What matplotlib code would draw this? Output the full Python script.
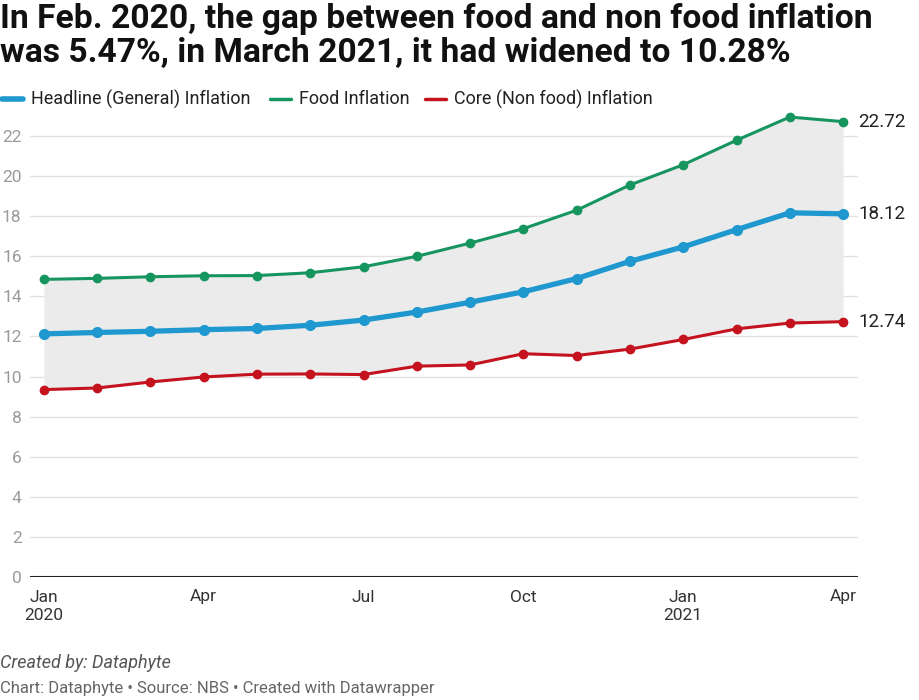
import numpy as np
import matplotlib.pyplot as plt

plt.rcParams['font.family'] = ['Roboto', 'DejaVu Sans']

months = ['Jan\n2020', 'Feb', 'Mar', 'Apr', 'May', 'Jun', 'Jul', 'Aug', 'Sep',
          'Oct', 'Nov', 'Dec', 'Jan\n2021', 'Feb', 'Mar', 'Apr']
headline = [12.13, 12.20, 12.26, 12.34, 12.40, 12.56, 12.82, 13.22, 13.71,
            14.23, 14.89, 15.75, 16.47, 17.33, 18.17, 18.12]
food = [14.85, 14.90, 14.98, 15.03, 15.04, 15.18, 15.48, 16.00, 16.66,
        17.38, 18.30, 19.56, 20.57, 21.79, 22.95, 22.72]
core = [9.35, 9.43, 9.73, 9.98, 10.12, 10.13, 10.10, 10.52, 10.58,
        11.14, 11.05, 11.37, 11.85, 12.38, 12.67, 12.74]

blue = '#1f98cf'
green = '#17955f'
red = '#c4131f'

x = np.arange(len(months))

fig = plt.figure(figsize=(9.19, 7), dpi=100)
ax = fig.add_axes([30/919, 123/700, 828/919, 471/700])

ax.fill_between(x, core, food, color='#ebebeb', lw=0, zorder=1)
ax.plot(x, food, color=green, lw=2.2, marker='o', ms=6, zorder=3)
ax.plot(x, core, color=red, lw=2.2, marker='o', ms=6, zorder=3)
ax.plot(x, headline, color=blue, lw=3.8, marker='o', ms=7, zorder=4)

ax.set_xlim(-0.26, 15.28)
ax.set_ylim(0, 23.5)
ax.set_yticks(range(0, 24, 2))
for yv in range(2, 24, 2):
    ax.axhline(yv, color='#e2e2e2', lw=1, zorder=0)
ax.axhline(0, color='#222222', lw=1.5, zorder=2)
for s in ax.spines.values():
    s.set_visible(False)
ax.tick_params(axis='y', length=0, labelsize=12.5, labelcolor='#9a9a9a', pad=6)
ax.tick_params(axis='x', length=0, labelsize=12.5, labelcolor='#333333', pad=9)
ax.set_xticks([0, 3, 6, 9, 12, 15])
ax.set_xticklabels([months[i] for i in [0, 3, 6, 9, 12, 15]], linespacing=1.25)
ax.set_yticklabels([str(v) for v in range(0, 24, 2)], ha='right')

# end labels
for series in [food, headline, core]:
    ax.annotate(f'{series[-1]:.2f}', (x[-1], series[-1]), xytext=(11, 0),
                textcoords='offset points', va='center', ha='left',
                fontsize=13.5, color='#222222', annotation_clip=False)

fig.text(0.0, 1 - 3/700, 'In Feb. 2020, the gap between food and non food inflation\n'
         'was 5.47%, in March 2021, it had widened to 10.28%',
         fontsize=24.2, fontweight='bold', va='top', ha='left', color='#111111',
         linespacing=1.1)

# legend
legend = [('Headline (General) Inflation', blue, 4), ('Food Inflation', green, 2.5),
          ('Core (Non food) Inflation', red, 2.5)]
lx = [2, 270, 425]
for (lab, col, lw), px in zip(legend, lx):
    fig.add_artist(plt.Line2D([px/919, (px+21)/919], [1-99/700, 1-99/700],
                              color=col, lw=lw, solid_capstyle='round'))
    fig.text((px+29)/919, 1-99/700, lab, fontsize=13, va='center', color='#222222')

fig.text(0.0, 1-663/700, 'Created by: Dataphyte', fontsize=13, style='italic',
         color='#555555', va='center')
fig.text(0.0, 1-689/700, 'Chart: Dataphyte • Source: NBS • Created with Datawrapper',
         fontsize=12, color='#666666', va='center')

fig.savefig('out.png', dpi=100)
